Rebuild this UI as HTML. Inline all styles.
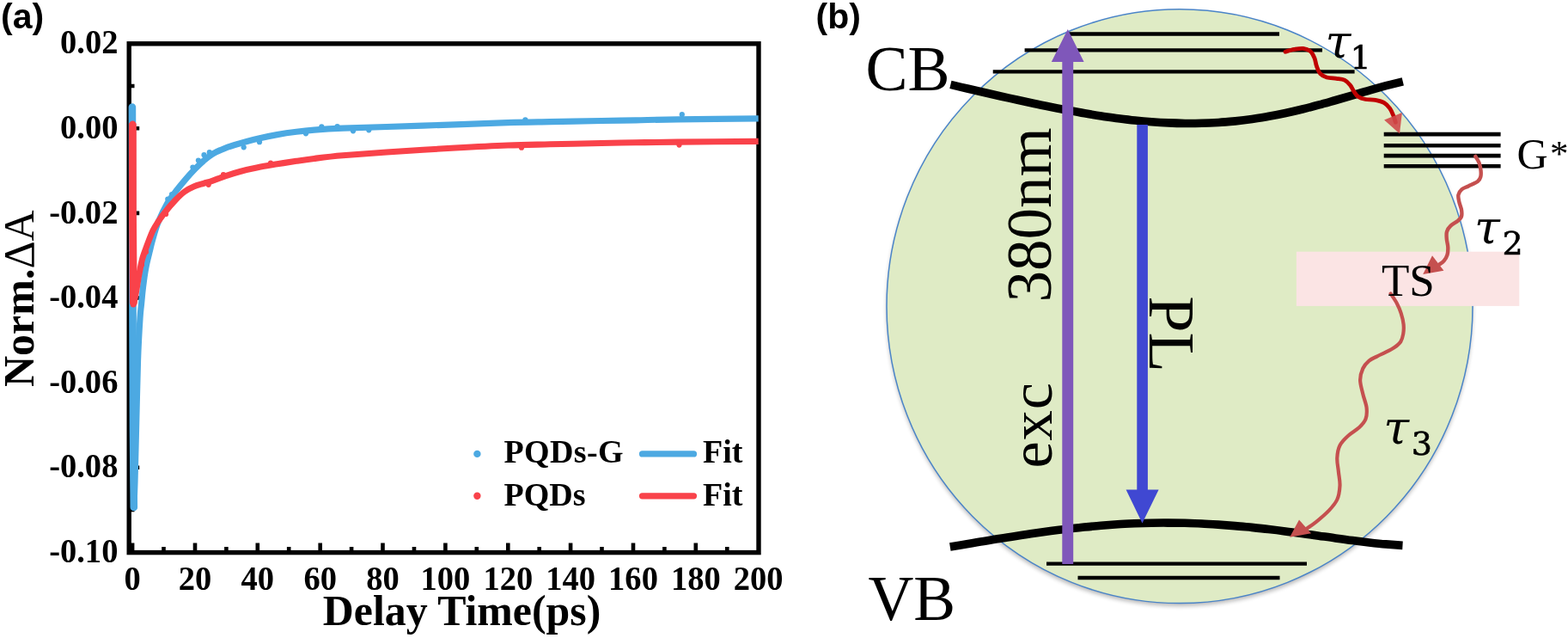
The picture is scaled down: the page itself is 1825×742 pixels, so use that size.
<!DOCTYPE html>
<html lang="en">
<head>
<meta charset="utf-8">
<title>Transient absorption kinetics and energy-level scheme</title>
<style>
  html, body { margin: 0; padding: 0; background: #ffffff; }
  body { width: 1825px; height: 742px; overflow: hidden; }
  svg { display: block; }
  text { font-family: "Liberation Serif", "DejaVu Serif", serif; fill: #000; }
  .tick { font-weight: bold; font-size: 41px; }
  .axt { font-weight: bold; font-size: 50px; }
  .leg { font-weight: bold; font-size: 38px; }
  .panel { font-family: "Liberation Sans", "DejaVu Sans", sans-serif; font-weight: bold; font-size: 41px; }
  .big { font-size: 72px; }
  .tau { font-family: "DejaVu Serif", "Liberation Serif", serif; font-style: italic; font-size: 54px; }
  .sub { font-family: "DejaVu Serif", "Liberation Serif", serif; font-style: normal; font-size: 38px; stroke: #000; stroke-width: 0.6px; }
</style>
</head>
<body>
<svg width="1825" height="742" viewBox="0 0 1825 742">
  <defs>
    <filter id="soft" x="-5%" y="-5%" width="110%" height="110%"><feGaussianBlur stdDeviation="2.5"/></filter>
  </defs>
  <rect x="0" y="0" width="1825" height="742" fill="#ffffff"/>

  <g id="panel-a">
    <text class="panel" x="1" y="33.2">(a)</text>
    <g class="tick" text-anchor="end">
      <text transform="translate(137.4,62.3) scale(0.94,1)">0.02</text>
      <text transform="translate(137.4,160.9) scale(0.94,1)">0.00</text>
      <text transform="translate(137.4,259.5) scale(0.94,1)">-0.02</text>
      <text transform="translate(137.4,358.1) scale(0.94,1)">-0.04</text>
      <text transform="translate(137.4,456.7) scale(0.94,1)">-0.06</text>
      <text transform="translate(137.4,555.3) scale(0.94,1)">-0.08</text>
      <text transform="translate(137.4,653.9) scale(0.94,1)">-0.10</text>
    </g>
    <g class="tick" text-anchor="middle">
      <text transform="translate(154.1,686) scale(0.94,1)">0</text>
      <text transform="translate(227,686) scale(0.94,1)">20</text>
      <text transform="translate(299.8,686) scale(0.94,1)">40</text>
      <text transform="translate(372.7,686) scale(0.94,1)">60</text>
      <text transform="translate(445.5,686) scale(0.94,1)">80</text>
      <text transform="translate(518.4,686) scale(0.94,1)">100</text>
      <text transform="translate(591.3,686) scale(0.94,1)">120</text>
      <text transform="translate(664.1,686) scale(0.94,1)">140</text>
      <text transform="translate(737,686) scale(0.94,1)">160</text>
      <text transform="translate(809.8,686) scale(0.94,1)">180</text>
      <text transform="translate(882.7,686) scale(0.94,1)">200</text>
    </g>
    <text class="axt" x="375.8" y="726.9" textLength="323.5" lengthAdjust="spacingAndGlyphs">Delay Time(ps)</text>
    <text class="axt" transform="translate(38.8,450) rotate(-90)">Norm.<tspan font-weight="normal">ΔA</tspan></text>
    <g stroke="#000" stroke-width="4.6" fill="none">
      <path d="M154.1,642.6 v-11 M227,642.6 v-11 M299.8,642.6 v-11 M372.7,642.6 v-11 M445.5,642.6 v-11 M518.4,642.6 v-11 M591.3,642.6 v-11 M664.1,642.6 v-11 M737,642.6 v-11 M809.8,642.6 v-11"/>
      <path d="M190.5,642.6 v-6.5 M263.4,642.6 v-6.5 M336.2,642.6 v-6.5 M409.1,642.6 v-6.5 M482,642.6 v-6.5 M554.8,642.6 v-6.5 M627.7,642.6 v-6.5 M700.5,642.6 v-6.5 M773.4,642.6 v-6.5 M846.3,642.6 v-6.5"/>
      <path d="M150.2,149.3 h12 M150.2,247.9 h12 M150.2,346.5 h12 M150.2,445.1 h12 M150.2,543.7 h12"/>
      <path d="M150.2,100 h6.3 M150.2,198.6 h6.3 M150.2,297.2 h6.3 M150.2,395.8 h6.3 M150.2,494.4 h6.3 M150.2,593 h6.3"/>
    </g>
    <rect x="150.2" y="50.8" width="732.8" height="591.8" fill="none" stroke="#000" stroke-width="5.4"/>
    <g id="data-points">
      <path d="M153.9,124.5 L154.3,300 L155,500 L155.8,590" fill="none" stroke="#4ca9e2" stroke-width="8.6" stroke-linecap="round"/>
      <circle cx="243.8" cy="177.2" r="3.1" fill="#4ca9e2"/>
      <circle cx="237.5" cy="180.2" r="3.1" fill="#4ca9e2"/>
      <circle cx="230.9" cy="186.5" r="3.1" fill="#4ca9e2"/>
      <circle cx="224.4" cy="194.5" r="3.1" fill="#4ca9e2"/>
      <circle cx="195.3" cy="231.5" r="3.1" fill="#4ca9e2"/>
      <circle cx="200" cy="226" r="3.1" fill="#4ca9e2"/>
      <circle cx="283.7" cy="171.3" r="3.1" fill="#4ca9e2"/>
      <circle cx="302" cy="165.2" r="3.1" fill="#4ca9e2"/>
      <circle cx="356" cy="155.3" r="3.1" fill="#4ca9e2"/>
      <circle cx="374.3" cy="147.3" r="3.1" fill="#4ca9e2"/>
      <circle cx="392.6" cy="147" r="3.1" fill="#4ca9e2"/>
      <circle cx="411" cy="152.3" r="3.1" fill="#4ca9e2"/>
      <circle cx="429.3" cy="151.3" r="3.1" fill="#4ca9e2"/>
      <circle cx="611.4" cy="139.3" r="3.1" fill="#4ca9e2"/>
      <circle cx="793.8" cy="133.2" r="3.1" fill="#4ca9e2"/>
      <circle cx="176" cy="283" r="3.1" fill="#4ca9e2"/>
      <circle cx="171" cy="303" r="3.1" fill="#4ca9e2"/>
    </g>
    <g fill="none" stroke-linejoin="round" stroke-linecap="butt">
      <path d="M153.6,123 L154.1,300 L154.8,500 L155.8,590 C156,585 156.6,575 157,560 C157.4,545 157.9,523.3 158.5,500 C159.1,476.7 159.8,441.7 160.5,420 C161.2,398.3 162.3,380.8 163,370 C163.7,359.2 163.8,361 164.4,355 C165,349 165.6,341.2 166.5,334 C167.4,326.8 168.3,319.2 169.7,312 C171,304.8 173.3,296.3 174.6,291 C175.9,285.7 175.8,285.3 177.3,280 C178.9,274.7 181,266.2 183.9,259 C186.8,251.8 191.1,242.8 194.7,236.5 C198.3,230.2 201.8,226.2 205.4,221.5 C209,216.8 212.6,212.5 216.2,208.3 C219.8,204.1 223.5,200.1 227,196.5 C230.5,192.9 233.7,189.9 237,187 C240.3,184.1 242.8,181.8 247,179.3 C251.2,176.9 256.6,174.4 262,172.3 C267.4,170.2 273.1,168.6 279.4,166.8 C285.7,165 292.8,163 300,161.3 C307.2,159.6 315,157.9 322.5,156.6 C330,155.3 337.8,154.2 345,153.3 C352.2,152.4 356.7,151.9 365.7,151.2 C374.7,150.5 384.9,149.8 399,149.2 C413.1,148.6 428.2,148.2 450,147.5 C471.8,146.8 506.5,145.6 530,144.8 C553.5,144 572.7,143.1 591,142.6 C609.3,142.1 621.8,142 640,141.7 C658.2,141.3 683.3,140.8 700,140.5 C716.7,140.2 725.2,140.1 740,139.8 C754.8,139.5 765.2,139.1 789,138.8 C812.8,138.5 867.1,138.1 882.7,137.9" stroke="#4ca9e2" stroke-width="7.2"/>
      <path d="M154.4,145 L154.5,250 L155.3,352" stroke="#f9424a" stroke-width="8.8" stroke-linecap="round"/>
      <path d="M154,143 L154.2,250 L155.3,354 C155.7,352.4 156.8,348.1 157.5,344.7 C158.2,341.3 158.8,337.5 159.4,333.9 C160,330.3 160.6,326.6 161.2,323 C161.8,319.4 162.5,315.9 163.2,312.3 C163.9,308.7 164.5,305.2 165.5,301.6 C166.5,298 167.8,294.4 169.1,290.8 C170.4,287.2 171.6,283.8 173.1,280 C174.6,276.2 176.2,271.7 178,268 C179.8,264.3 181.5,261.8 184,258 C186.5,254.2 189.8,249.7 193.1,245.5 C196.4,241.3 200.3,236.8 203.9,233 C207.5,229.2 211.1,225.7 214.7,223 C218.3,220.3 221.8,218.6 225.5,217 C229.2,215.4 233.4,214.4 237,213.3 C240.6,212.2 242.8,211.7 247,210.3 C251.2,208.9 256.6,206.6 262,204.8 C267.4,203 273.1,201.2 279.4,199.5 C285.7,197.8 292.8,196.2 300,194.8 C307.2,193.4 315,192.1 322.5,190.8 C330,189.6 337.8,188.4 345,187.3 C352.2,186.2 356.7,185.5 365.7,184.4 C374.7,183.3 384.9,182 399,180.8 C413.1,179.6 428.2,178.5 450,177 C471.8,175.5 506.5,173.3 530,172 C553.5,170.7 572.7,169.7 591,169 C609.3,168.3 621.8,168.2 640,167.8 C658.2,167.4 683.3,166.8 700,166.5 C716.7,166.2 725.2,166 740,165.8 C754.8,165.6 765.2,165.3 789,165.1 C812.8,164.9 867.1,164.5 882.7,164.4" stroke="#f9424a" stroke-width="7.1"/>
      <circle cx="260" cy="203.2" r="3.1" fill="#f9424a" stroke="none"/>
      <circle cx="315" cy="189.6" r="3.1" fill="#f9424a" stroke="none"/>
      <circle cx="242.7" cy="214.8" r="3.1" fill="#f9424a" stroke="none"/>
      <circle cx="193.1" cy="249" r="3.1" fill="#f9424a" stroke="none"/>
      <circle cx="607" cy="171.7" r="3.1" fill="#f9424a" stroke="none"/>
      <circle cx="790.5" cy="168.6" r="3.1" fill="#f9424a" stroke="none"/>
      <circle cx="170" cy="293" r="3.1" fill="#f9424a" stroke="none"/>
      <circle cx="165" cy="308" r="3.1" fill="#f9424a" stroke="none"/>
    </g>
    <g class="leg">
      <circle cx="555.4" cy="527.9" r="4.2" fill="#4ca9e2"/>
      <text x="586.5" y="538.3" letter-spacing="0.35">PQDs-G</text>
      <path d="M747.5,527.9 H807.5" stroke="#4ca9e2" stroke-width="7.2" stroke-linecap="round"/>
      <text x="818" y="538.3">Fit</text>
      <circle cx="555.4" cy="576.8" r="4.2" fill="#f9424a"/>
      <text x="586.5" y="587.5">PQDs</text>
      <path d="M747.5,576.8 H807.5" stroke="#f9424a" stroke-width="7.2" stroke-linecap="round"/>
      <text x="818" y="587.5">Fit</text>
    </g>
  </g>
  <g id="panel-b">
    <text class="panel" x="949.5" y="33.2">(b)</text>
    <ellipse cx="1373" cy="359.5" rx="341" ry="345.5" fill="#000" opacity="0.28" filter="url(#soft)"/>
    <ellipse cx="1373" cy="356.2" rx="341" ry="345.4" fill="#dfebc5" stroke="#4a84c8" stroke-width="1.5"/>
    <rect x="1508.9" y="292.7" width="259.4" height="63.2" fill="#fbe4e4"/>
    <g stroke="#000" stroke-width="4.3" fill="none">
      <path d="M1243,39.5 H1489 M1192.6,58.3 H1539 M1155.7,83.4 H1576.6"/>
      <path d="M1218,655.6 H1521 M1254.5,672 H1489.5"/>
      <path d="M1610.7,156.1 H1746.6 M1610.7,169.2 H1746.6 M1610.7,181.1 H1746.6 M1610.7,193.2 H1746.6" stroke-width="4.6"/>
    </g>
    <g stroke="#000" stroke-width="9.6" fill="none">
      <path d="M1106.4,98.4 C1109.6,99.2 1119.4,101.5 1125.9,103 C1132.4,104.5 1138.9,106 1145.4,107.5 C1151.9,109 1158.4,110.5 1164.9,112 C1171.4,113.4 1177.9,114.9 1184.4,116.3 C1190.9,117.7 1197.4,119.1 1203.9,120.5 C1210.4,121.9 1216.9,123.2 1223.4,124.5 C1229.9,125.8 1236.4,127.1 1242.9,128.3 C1249.4,129.5 1255.9,130.7 1262.4,131.8 C1268.9,132.9 1275.4,134 1281.9,135 C1288.4,135.9 1294.9,136.9 1301.4,137.7 C1307.9,138.5 1314.4,139.3 1320.9,140 C1327.4,140.7 1333.9,141.3 1340.4,141.8 C1346.9,142.3 1353.4,142.7 1359.9,142.9 C1366.4,143.2 1372.8,143.4 1379.3,143.5 C1385.8,143.6 1392.3,143.5 1398.8,143.3 C1405.3,143.2 1411.8,142.9 1418.3,142.5 C1424.8,142.1 1431.3,141.5 1437.8,140.9 C1444.3,140.2 1450.8,139.4 1457.3,138.5 C1463.8,137.5 1470.3,136.5 1476.8,135.3 C1483.3,134.2 1489.8,132.9 1496.3,131.5 C1502.8,130.1 1509.3,128.6 1515.8,127 C1522.3,125.4 1528.8,123.7 1535.3,121.9 C1541.8,120.2 1548.3,118.3 1554.8,116.5 C1561.3,114.6 1567.8,112.7 1574.3,110.8 C1580.8,108.9 1587.3,106.9 1593.8,105.1 C1600.3,103.2 1606.8,101.3 1613.3,99.6 C1619.8,98 1629.6,95.7 1632.8,94.9"/>
      <path d="M1105.8,635.9 C1109.1,635.4 1118.8,633.8 1125.3,632.7 C1131.8,631.6 1138.3,630.5 1144.8,629.5 C1151.3,628.4 1157.8,627.3 1164.3,626.3 C1170.8,625.2 1177.3,624.2 1183.8,623.2 C1190.3,622.2 1196.8,621.2 1203.3,620.3 C1209.8,619.4 1216.3,618.5 1222.8,617.6 C1229.3,616.7 1235.8,615.9 1242.4,615.2 C1248.9,614.4 1255.4,613.7 1261.9,613 C1268.4,612.4 1274.9,611.8 1281.4,611.3 C1287.9,610.7 1294.4,610.2 1300.9,609.8 C1307.4,609.4 1313.9,609.1 1320.4,608.8 C1326.9,608.6 1333.4,608.4 1339.9,608.2 C1346.4,608.1 1352.9,608 1359.4,608.1 C1365.9,608.1 1372.4,608.2 1378.9,608.3 C1385.4,608.5 1391.9,608.7 1398.4,609 C1404.9,609.3 1411.4,609.7 1417.9,610.1 C1424.4,610.5 1430.9,611 1437.4,611.6 C1443.9,612.1 1450.4,612.8 1456.9,613.4 C1463.4,614.1 1469.9,614.8 1476.4,615.6 C1482.9,616.3 1489.4,617.1 1495.9,618 C1502.5,618.8 1509,619.7 1515.5,620.6 C1522,621.4 1528.5,622.3 1535,623.2 C1541.5,624.1 1548,625.1 1554.5,625.9 C1561,626.8 1567.5,627.7 1574,628.5 C1580.5,629.4 1587,630.2 1593.5,630.9 C1600,631.6 1606.5,632.3 1613,632.9 C1619.5,633.5 1629.2,634.2 1632.5,634.4"/>
    </g>
    <path d="M1236.3,656 V72 H1223.8 L1242.8,34 L1261.6,72 H1249.2 V656 Z" fill="#7f57ba"/>
    <path d="M1323.3,145 H1335.9 V569.6 H1348.6 L1329.5,608.6 L1310.6,569.6 H1323.3 Z" fill="#4048d2"/>
    <path d="M1496,60.2 C1497.7,59.7 1502.9,58 1506.4,57.4 C1509.9,56.8 1513.7,56 1516.8,56.4 C1519.9,56.8 1523.1,57.9 1525.3,59.8 C1527.5,61.7 1528.8,64.8 1530,67.7 C1531.2,70.6 1531.4,74.2 1532.5,77.2 C1533.6,80.2 1534.6,83.6 1536.6,85.7 C1538.5,87.8 1541,89.1 1544.2,90 C1547.4,90.9 1552,90.8 1555.5,91.3 C1559,91.8 1562.2,91.9 1564.9,93.2 C1567.6,94.5 1569.7,96.7 1571.5,98.9 C1573.3,101.1 1574.2,104.1 1575.8,106.4 C1577.4,108.7 1578.6,111.1 1580.9,112.6 C1583.2,114.1 1586.1,114.9 1589.4,115.5 C1592.7,116.1 1597.2,115.7 1600.8,116.4 C1604.4,117.1 1608.3,118 1611.1,119.6 C1613.9,121.2 1615.9,123.7 1617.7,126.2 C1619.5,128.7 1620.8,132 1621.9,134.7 C1623,137.4 1623.9,141 1624.3,142.3" fill="none" stroke="#c00000" stroke-width="4.8" stroke-linecap="round"/>
    <path d="M1611.1,139.4 L1631.9,130.9 L1629,155.6 Z" fill="#cf4a4a" opacity="0.9"/>
    <path d="M1717.3,181.9 C1718,183.2 1720.6,186.7 1721.6,189.4 C1722.6,192.1 1723.2,195.4 1723.5,198.1 C1723.8,200.8 1723.9,203.4 1723.3,205.6 C1722.7,207.8 1722.3,209.2 1719.9,211 C1717.5,212.8 1712.2,214.9 1709.1,216.4 C1706,217.9 1703.5,218.4 1701.5,220.1 C1699.5,221.8 1697.9,224.1 1697.4,226.6 C1696.9,229.1 1697.7,231.8 1698.3,234.8 C1698.9,237.8 1700.7,241.6 1701.1,244.5 C1701.5,247.4 1701.7,249.9 1700.9,252 C1700.2,254.1 1698.6,255.3 1696.6,257 C1694.5,258.7 1690.7,260.3 1688.6,262.4 C1686.5,264.4 1684.8,266.7 1684,269.3 C1683.2,271.9 1683.6,274.8 1683.8,277.9 C1684,280.9 1685.2,284.5 1685.3,287.6 C1685.4,290.7 1685.3,293.7 1684.5,296.3 C1683.7,298.9 1682.3,301.4 1680.6,303.4 C1678.9,305.4 1675.5,307.3 1674.5,308.1" fill="none" stroke="#c5504f" stroke-width="4.4" stroke-linecap="round"/>
    <path d="M1656.2,319 L1667,297.3 L1680.4,314.8 Z" fill="#c5504f"/>
    <path d="M1618.6,341.5 C1619.8,343.4 1623.9,349.1 1625.9,352.9 C1627.9,356.7 1629.4,360.2 1630.7,364.3 C1632,368.4 1633.2,373.2 1633.6,377.2 C1634,381.2 1633.8,385.1 1633.2,388.5 C1632.6,391.9 1631.9,394.9 1630.2,397.5 C1628.5,400.1 1625.9,402 1623,404 C1620.1,406 1616.1,408 1612.8,409.7 C1609.5,411.4 1606.2,412.6 1603,414.3 C1599.8,416 1596.2,417.2 1593.4,419.6 C1590.6,422 1588,424.8 1586.3,428.5 C1584.6,432.2 1583.1,437.1 1583.1,442 C1583.1,446.9 1585,452.8 1586.3,458.2 C1587.5,463.6 1590.1,469.4 1590.6,474.3 C1591.1,479.2 1590.9,483.5 1589.5,487.3 C1588.1,491.1 1585.5,493.8 1582.1,497 C1578.7,500.2 1573,503.2 1569.2,506.7 C1565.4,510.2 1561.7,513.7 1559.5,518 C1557.3,522.3 1556.6,527.4 1556.3,532.5 C1556,537.6 1557.4,543.3 1557.9,548.7 C1558.4,554.1 1559.8,559.4 1559.5,564.8 C1559.2,570.2 1558.5,576.1 1556.3,581 C1554.1,585.9 1550.6,589.6 1546.6,593.9 C1542.5,598.2 1536.3,603.4 1532,606.9 C1527.7,610.4 1522.6,613.6 1520.7,614.9" fill="none" stroke="#c5504f" stroke-width="4.2" stroke-linecap="round"/>
    <path d="M1501.2,624.8 L1512,604.6 L1526,620.3 Z" fill="#c5504f"/>
    <text x="1007.6" y="105.3" font-size="73.5">CB</text>
    <text x="1010.4" y="721.1" font-size="73.2">VB</text>
    <text font-size="75" transform="translate(1223.3,351.5) rotate(-90)" textLength="203" lengthAdjust="spacingAndGlyphs">380nm</text>
    <text font-size="70.5" transform="translate(1223.8,544.5) rotate(-90)" letter-spacing="0.8">exc</text>
    <text font-size="76" transform="translate(1338.2,344.2) rotate(90)">PL</text>
    <text x="1765.6" y="196" font-size="50">G<tspan dx="2.2" dy="-3.5" font-size="43">*</tspan></text>
    <text x="1608" y="344.3" font-size="53">TS</text>
    <text class="tau" x="1542.5" y="66.5">τ<tspan class="sub" dy="13" dx="-1">1</tspan></text>
    <text class="tau" x="1716" y="282.5">τ<tspan class="sub" dy="13" dx="2.5">2</tspan></text>
    <text class="tau" x="1610.3" y="515.8">τ<tspan class="sub" dy="13" dx="2.5">3</tspan></text>
  </g>
</svg>
</body>
</html>
